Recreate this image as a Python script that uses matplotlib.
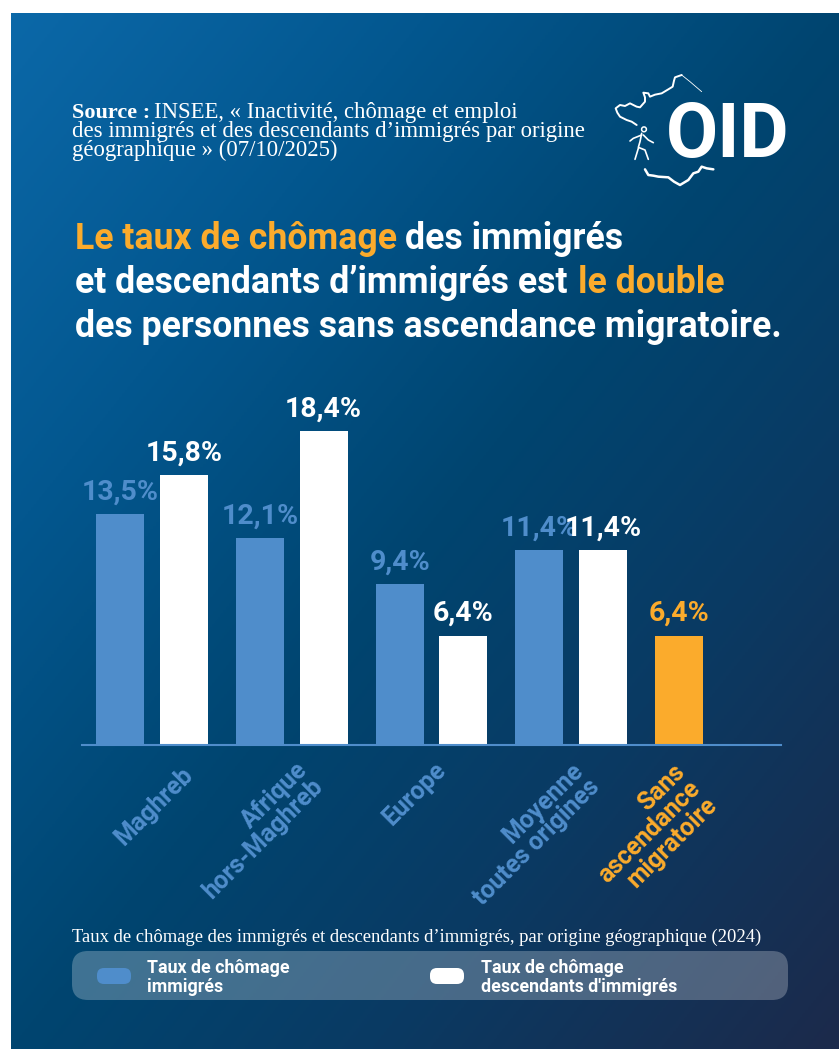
import numpy as np
import matplotlib
matplotlib.use("Agg")
import matplotlib.pyplot as plt
from matplotlib.colors import LinearSegmentedColormap
from matplotlib.patches import FancyBboxPatch, Circle

# Data
categories = ["Maghreb", "Afrique\nhors-Maghreb", "Europe", "Moyenne\ntoutes origines", "Sans\nascendance\nmigratoire"]
immigres = [13.5, 12.1, 9.4, 11.4]
descendants = [15.8, 18.4, 6.4, 11.4]
sans_ascendance = [6.4]

BLUE = "#4f8dcb"
ORANGE = "#fbab2c"
W, H = 839, 1052
SANS = "Roboto"
SERIF = "Liberation Serif"


def pct(v):
    return f"{v:.1f}%".replace(".", ",")


fig = plt.figure(figsize=(W / 100, H / 100), dpi=100, facecolor="white")

# Diagonal gradient background, white margin on the left/top/bottom
bg = fig.add_axes([11 / W, 1 - 1049 / H, (W - 11) / W, (1049 - 13) / H], zorder=0)
yy, xx = np.mgrid[0:1:300j, 0:1:300j]
cmap = LinearSegmentedColormap.from_list(
    "bg", [(0, "#0b68a8"), (0.25, "#03578f"), (0.5, "#004570"), (0.72, "#0a3a63"), (1, "#1c2a4b")])
bg.imshow((xx + yy) / 2, cmap=cmap, vmin=0, vmax=1, aspect="auto", extent=(0, 1, 1, 0))
bg.axis("off")

# Bar chart: baseline at y=745, axis line from x=82 to x=781
ax = fig.add_axes([82 / W, 1 - 745 / H, (781 - 82) / W, 341.5 / H], zorder=2)
ax.patch.set_alpha(0)
offset = 0.228
width = 0.343
x = np.arange(len(immigres))
b1 = ax.bar(x - offset, immigres, width, color=BLUE)
b2 = ax.bar(x + offset, descendants, width, color="white")
b3 = ax.bar([len(immigres) - offset], sans_ascendance, width, color=ORANGE)
ax.set_xlim(-0.5, 4.5)
ax.set_ylim(0, 20)
ax.set_xticks([])
ax.set_yticks([])
for s in ["top", "left", "right"]:
    ax.spines[s].set_visible(False)
ax.spines["bottom"].set_color(BLUE)
ax.spines["bottom"].set_linewidth(1.5)
for bars, vals, col in [(b1, immigres, BLUE), (b2, descendants, "white"), (b3, sans_ascendance, ORANGE)]:
    for r, v in zip(bars, vals):
        ax.annotate(pct(v), (r.get_x() + r.get_width() / 2, v), xytext=(0, 10.5), textcoords="offset points",
                    ha="center", va="baseline", color=col, fontsize=20.5, fontweight="bold", family=SANS)

# Overlay in image pixels for the text blocks and the logo
ov = fig.add_axes([0, 0, 1, 1], zorder=3)
ov.set_xlim(0, W)
ov.set_ylim(H, 0)
ov.axis("off")

# Source
ov.text(72, 118, "Source :", color="white", fontsize=16, fontweight="bold", family=SERIF, va="baseline")
ov.text(154, 118, "INSEE, « Inactivité, chômage et emploi", color="white", fontsize=16.4, family=SERIF, va="baseline")
ov.text(72, 137, "des immigrés et des descendants d’immigrés par origine", color="white", fontsize=16.4,
        family=SERIF, va="baseline")
ov.text(72, 156, "géographique » (07/10/2025)", color="white", fontsize=16.4, family=SERIF, va="baseline")

# Title
title_parts = [
    (75, 249, "Le taux de chômage", ORANGE),
    (405, 249, "des immigrés", "white"),
    (75, 293, "et descendants d’immigrés est", "white"),
    (578, 293, "le double", ORANGE),
    (75, 337, "des personnes sans ascendance migratoire.", "white"),
]
for tx, ty, t, c in title_parts:
    ov.text(tx, ty, t, color=c, fontsize=25.7, fontweight="bold", family=SANS, va="baseline")

# Logo
ov.text(666, 157, "OID", color="white", fontsize=54.5, fontweight="bold", family=SANS, va="baseline")
outline_thin = [(305, 95), (270, 65), (245, 45)]
outline_top = [(245, 45), (225, 52), (222, 62), (218, 80), (205, 88), (185, 100), (165, 104), (150, 110), (145, 100),
               (130, 98), (135, 112), (135, 125), (120, 142), (110, 140), (90, 130), (75, 138), (60, 135), (47, 145),
               (52, 158), (60, 170), (80, 180), (95, 185), (110, 195)]
outline_bottom = [(135, 328), (145, 345), (160, 347), (175, 350), (205, 352), (222, 365), (240, 375), (265, 360),
                  (280, 340), (295, 335), (305, 320), (320, 325), (340, 328)]
walker = [[(125, 220), (120, 245), (115, 262), (135, 270), (145, 298)], [(115, 265), (105, 298)],
          [(125, 225), (100, 235), (90, 243)], [(130, 225), (145, 240), (160, 248)]]
for line, lw in [(outline_thin, 0.6), (outline_top, 1.4), (outline_bottom, 1.8)] + [(w, 1.2) for w in walker]:
    pts = np.array(line) / 3 + [600, 60]
    ov.plot(pts[:, 0], pts[:, 1], color="white", lw=lw, solid_capstyle="round")
ov.add_patch(Circle((600 + 132 / 3, 60 + 208 / 3), 2.4, fill=False, ec="white", lw=1.1))

# Rotated category labels, hand placed like the original
label_anchor = [(181, 763), (295, 758), (434, 758), (571, 758), (672, 760)]
for name, (lx, ly), c in zip(categories, label_anchor, [BLUE, BLUE, BLUE, BLUE, ORANGE]):
    ov.text(lx, ly, name, color=c, fontsize=17.8, fontweight="bold", family=SANS, rotation=45,
            rotation_mode="anchor", ha="right", va="top", multialignment="right", linespacing=0.95)

# Caption and legend band
ov.text(72, 942, "Taux de chômage des immigrés et descendants d’immigrés, par origine géographique (2024)",
        color="white", fontsize=13.45, family=SERIF, va="baseline")
band = FancyBboxPatch((72 + 16, 951 + 16), 716 - 32, 49 - 32, boxstyle="round,pad=16", fc="white", ec="none", alpha=0.25)
ov.add_patch(band)
for sx, col in [(97, BLUE), (430, "white")]:
    ov.add_patch(FancyBboxPatch((sx + 7, 968 + 7), 34 - 14, 16 - 14, boxstyle="round,pad=7", fc=col, ec="none"))
ov.text(147, 973, "Taux de chômage", color="white", fontsize=12.8, fontweight="bold", family=SANS, va="baseline")
ov.text(147, 992, "immigrés", color="white", fontsize=12.8, fontweight="bold", family=SANS, va="baseline")
ov.text(481, 973, "Taux de chômage", color="white", fontsize=12.8, fontweight="bold", family=SANS, va="baseline")
ov.text(481, 992, "descendants d'immigrés", color="white", fontsize=12.8, fontweight="bold", family=SANS, va="baseline")

fig.savefig("out.png", dpi=100, facecolor="white")
